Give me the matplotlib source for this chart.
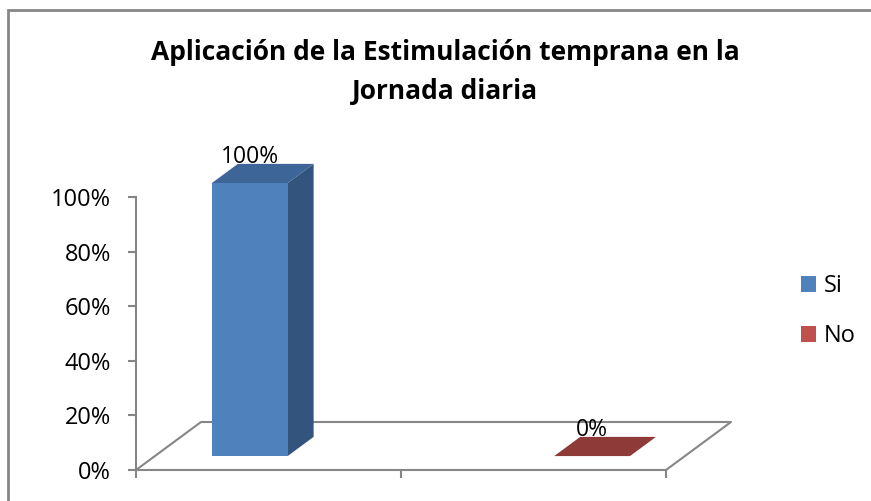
import matplotlib
matplotlib.use("Agg")
import matplotlib.pyplot as plt
from matplotlib.patches import Polygon, Rectangle, Patch

plt.rcParams['font.family'] = ['Open Sans', 'DejaVu Sans']

# ---- data ----
categories = ["Si", "No"]
values = [1.0, 0.0]
value_labels = ["100%", "0%"]
yticks = [0.0, 0.2, 0.4, 0.6, 0.8, 1.0]
ytick_labels = ["0%", "20%", "40%", "60%", "80%", "100%"]
title = "Aplicación de la Estimulación temprana en la\nJornada diaria"

# ---- style / layout ----
front_colors = ["#4F81BD", "#C0504D"]
top_colors = ["#3D6598", "#8E3A38"]
side_colors = ["#32547D", "#7A302E"]
bar_centers = [0.358, 1.650]
bar_width = 0.286
d_front, d_back = 0.29, 0.69
axis_gray = "#868686"

W, H = 871, 501
fig = plt.figure(figsize=(W / 100, H / 100), dpi=100)
ax = fig.add_axes([136 / W, 31 / H, 530 / W, 273 / H])
ax.set_xlim(0, 2)
ax.set_ylim(0, 1)

# oblique depth: full depth = 65 px right, 48 px up
DX = 65 / 265
DY = 48 / 273


def P(x, y, d):
    return (x + d * DX, y + d * DY)


# floor outline
fx = [P(0, 0, 0)[0], P(0, 0, 1)[0], P(2, 0, 1)[0], P(2, 0, 0)[0]]
fy = [P(0, 0, 0)[1], P(0, 0, 1)[1], P(2, 0, 1)[1], P(2, 0, 0)[1]]
ax.plot(fx, fy, color=axis_gray, lw=1.5, clip_on=False, zorder=1)

# bars
for i, v in enumerate(values):
    x0 = bar_centers[i] - bar_width / 2
    x1 = bar_centers[i] + bar_width / 2
    if v > 0:
        front = [P(x0, 0, d_front), P(x1, 0, d_front), P(x1, v, d_front), P(x0, v, d_front)]
        side = [P(x1, 0, d_front), P(x1, 0, d_back), P(x1, v, d_back), P(x1, v, d_front)]
        ax.add_patch(Polygon(side, closed=True, fc=side_colors[i], ec="none", clip_on=False, zorder=3))
        ax.add_patch(Polygon(front, closed=True, fc=front_colors[i], ec="none", clip_on=False, zorder=4))
    top = [P(x0, v, d_front), P(x1, v, d_front), P(x1, v, d_back), P(x0, v, d_back)]
    ax.add_patch(Polygon(top, closed=True, fc=top_colors[i], ec="none", clip_on=False, zorder=3))
    lx, ly = P(bar_centers[i], v, d_front)
    ax.annotate(value_labels[i], (lx, ly), xytext=(0, 26), textcoords="offset pixels",
                ha="center", va="center", fontsize=16.5, color="black",
                annotation_clip=False, zorder=6)

# axes styling
for s in ["top", "right"]:
    ax.spines[s].set_visible(False)
ax.spines["left"].set_color(axis_gray)
ax.spines["bottom"].set_color(axis_gray)
ax.spines["left"].set_linewidth(1.5)
ax.spines["bottom"].set_linewidth(1.5)
ax.set_yticks(yticks)
ax.set_yticklabels(ytick_labels)
ax.set_xticks([0, 1, 2])
ax.set_xticklabels(["", "", ""])
ax.tick_params(axis="y", direction="out", length=6, width=1.5, color=axis_gray,
               labelsize=17, pad=12)
ax.tick_params(axis="x", direction="out", length=6, width=1.5, color=axis_gray)
ax.patch.set_alpha(0)

# title
fig.text(445 / W, 1 - 72 / H, title, ha="center", va="center", fontsize=19,
         fontweight="bold", linespacing=1.55)

# legend
handles = [Patch(fc=c, ec="none") for c in front_colors]
fig.legend(handles, categories, loc="center left", bbox_to_anchor=(801 / W, 1 - 311 / H),
           frameon=False, fontsize=17, handlelength=0.65, handleheight=0.65,
           handletextpad=0.3, labelspacing=1.1, borderaxespad=0, borderpad=0)

# chart frame (extends beyond the right/bottom edges)
fig.add_artist(Rectangle((8 / W, -0.2), 1.2, 1.2 - 10 / H, transform=fig.transFigure,
                         fill=False, ec=axis_gray, lw=2))

fig.savefig("out.png", dpi=100)
